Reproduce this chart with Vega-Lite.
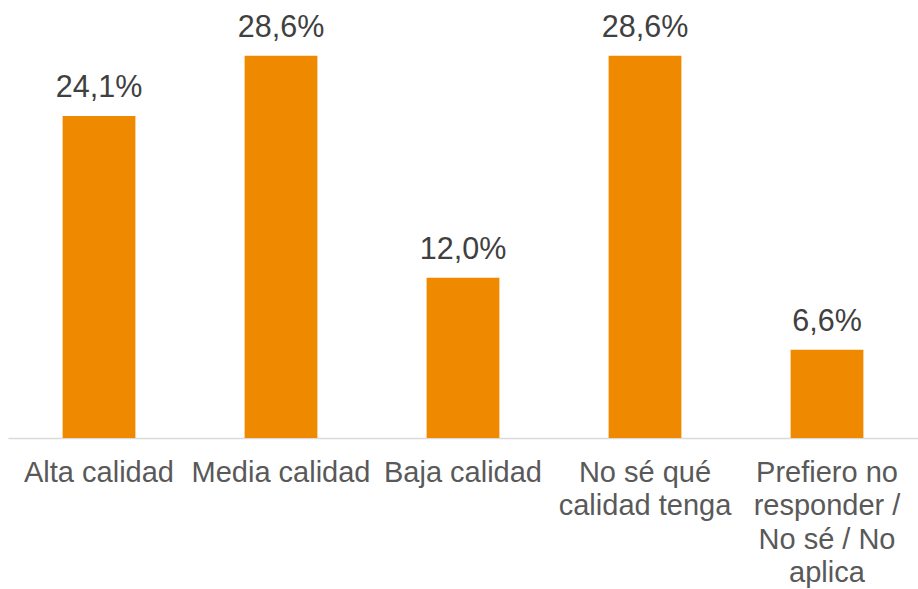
{
  "$schema": "https://vega.github.io/schema/vega-lite/v6.json",
  "autosize": "none",
  "width": 910,
  "height": 438,
  "padding": {"left": 8, "top": 0, "right": 0, "bottom": 151},
  "background": "white",
  "config": {"view": {"stroke": null}, "font": "Liberation Sans"},
  "data": {"values": [
    {"categoria": "Alta calidad", "valor": 24.1, "etiqueta": "24,1%"},
    {"categoria": "Media calidad", "valor": 28.6, "etiqueta": "28,6%"},
    {"categoria": "Baja calidad", "valor": 12.0, "etiqueta": "12,0%"},
    {"categoria": "No sé qué calidad tenga", "valor": 28.6, "etiqueta": "28,6%"},
    {"categoria": "Prefiero no responder / No sé / No aplica", "valor": 6.6, "etiqueta": "6,6%"}
  ]},
  "encoding": {
    "x": {
      "field": "categoria", "type": "nominal", "sort": null,
      "scale": {"paddingInner": 0.6, "paddingOuter": 0.3},
      "axis": {
        "title": null, "labelAngle": 0, "ticks": false, "domainColor": "#d9d9d9", "domainWidth": 1.5,
        "labelFont": "Liberation Sans", "labelFontSize": 29, "labelColor": "#595959",
        "labelPadding": 20, "labelLineHeight": 33.5, "labelLimit": 0,
        "labelExpr": "datum.label == 'No sé qué calidad tenga' ? ['No sé qué', 'calidad tenga'] : datum.label == 'Prefiero no responder / No sé / No aplica' ? ['Prefiero no', 'responder /', 'No sé / No', 'aplica'] : datum.label"
      }
    },
    "y": {
      "field": "valor", "type": "quantitative",
      "scale": {"domain": [0, 32.78], "nice": false},
      "axis": null
    }
  },
  "layer": [
    {"mark": {"type": "bar", "color": "#EF8A00"}},
    {"mark": {"type": "text", "baseline": "alphabetic", "dy": -19, "fontSize": 30.5, "color": "#404040", "font": "Liberation Sans"},
     "encoding": {"text": {"field": "etiqueta"}}}
  ]
}
